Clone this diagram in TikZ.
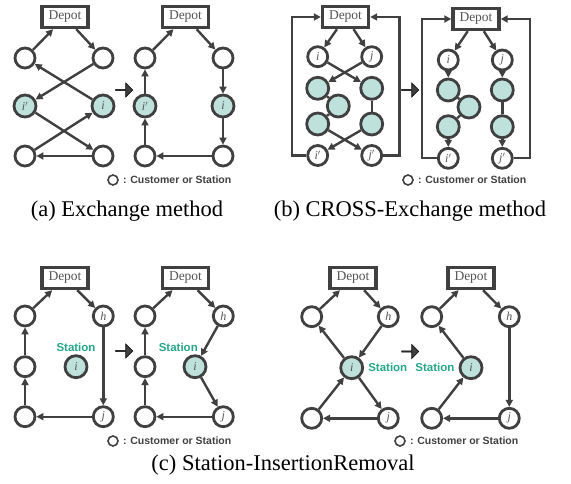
\documentclass[tikz,border=0pt]{standalone}
\usepackage{fontspec}
\setmainfont{Liberation Serif}
\setsansfont{Liberation Sans}
\usepackage{tikz}
\usetikzlibrary{arrows.meta,shapes.arrows,positioning}

\definecolor{dgray}{RGB}{64,64,64}
\definecolor{lgray}{RGB}{85,85,85}
\definecolor{tealfill}{RGB}{190,225,220}
\definecolor{stgreen}{RGB}{38,166,138}

\begin{document}
\begin{tikzpicture}[x=1pt,y=-1pt,color=dgray,line width=2.4pt,
    >={Triangle[length=7pt,width=7pt]},
    cust/.style={circle,draw,line width=2.8pt,fill=white,minimum size=20pt,inner sep=0pt,
      text=lgray,font=\fontsize{12}{12}\selectfont\itshape},
    sta/.style={cust,fill=tealfill,minimum size=22pt},
    depot/.style={draw,line width=3.4pt,fill=white,minimum width=46pt,minimum height=21pt,
      inner sep=0pt,text=lgray,font=\fontsize{13.5}{13.5}\selectfont},
    fat/.style={single arrow,draw=black,line width=0.6pt,fill=dgray,minimum height=17pt,
      minimum width=14pt,single arrow head extend=3.5pt,inner sep=0pt},
    key/.style={circle,draw,line width=1.6pt,minimum size=10pt,inner sep=0pt},
    keytext/.style={inner sep=0pt,text=dgray,font=\fontsize{10.5}{11}\sffamily\bfseries},
    stext/.style={inner sep=0pt,text=stgreen,font=\fontsize{11.5}{12}\sffamily\bfseries},
    captext/.style={inner sep=0pt,text=black,font=\fontsize{22.5}{24}\selectfont}]
  \useasboundingbox (0,0) rectangle (571,484);

  % (a) exchange, before
  \node[depot] (a0) at (65,17) {Depot};
  \node[cust] (a1) at (25,58) {};
  \node[cust,right of=a1,node distance=78pt] (a2) {};
  \node[sta,below of=a1,node distance=48pt] (a3) {\textit{i}$'$};
  \node[sta,right of=a3,node distance=78pt] (a4) {\textit{i}};
  \node[cust,below of=a3,node distance=50pt] (a5) {};
  \node[cust,right of=a5,node distance=78pt] (a6) {};

  \draw[->] (a1) -- (a0);
  \draw[->] (a0) -- (a2);
  \draw[->] (a2) -- (a3);
  \draw[->] (a4) -- (a1);
  \draw[->] (a3) -- (a6);
  \draw[->] (a5) -- (a4);
  \draw[->] (a6) -- (a5);

  \node[fat] (f1) at (124,90) {};

  % (a) exchange, after
  \node[depot] (a10) at (185.5,17) {Depot};
  \node[cust] (a11) at (145,58) {};
  \node[cust,right of=a11,node distance=78pt] (a12) {};
  \node[sta,below of=a11,node distance=48pt] (a13) {\textit{i}$'$};
  \node[sta,right of=a13,node distance=78pt] (a14) {\textit{i}};
  \node[cust,below of=a13,node distance=50pt] (a15) {};
  \node[cust,right of=a15,node distance=78pt] (a16) {};

  \draw[->] (a11) -- (a10);
  \draw[->] (a10) -- (a12);
  \draw[->] (a12) -- (a14);
  \draw[->] (a14) -- (a16);
  \draw[->] (a16) -- (a15);
  \draw[->] (a15) -- (a13);
  \draw[->] (a13) -- (a11);

  \node[key] (k1) at (113,180) {};
  \node[keytext,right=3pt of k1] (k1t) {: Customer or Station};

  % (b) cross-exchange, before
  \node[depot] (b0) at (345.5,17) {Depot};
  \node[cust] (b1) at (317.7,56.7) {\textit{i}};
  \node[cust,right of=b1,node distance=54pt] (b2) {\textit{j}};
  \node[sta] (b3) at (317.7,88.3) {};
  \node[sta] (b4) at (338.3,106) {};
  \node[sta] (b5) at (317.7,124) {};
  \node[sta,right of=b3,node distance=54pt] (b6) {};
  \node[sta,right of=b5,node distance=54pt] (b7) {};
  \node[cust] (b8) at (317.7,155.5) {\textit{i}$'$};
  \node[cust,right of=b8,node distance=54pt] (b9) {\textit{j}$'$};

  \draw[->] (b0) -- (b1);
  \draw[->] (b0) -- (b2);
  \draw[->] (b1) -- (b6);
  \draw[->] (b2) -- (b3);
  \draw (b3) -- (b4) -- (b5);
  \draw (b6) -- (b7);
  \draw[->] (b5) -- (b9);
  \draw[->] (b7) -- (b8);
  \draw[->] (b8.west) -- ++(-14.5,0) |- (b0.west);
  \draw[->] (b9.east) -- ++(16.5,0) |- (b0.east);

  \node[fat] (f2) at (410,90) {};

  % (b) cross-exchange, after
  \node[depot] (b10) at (476,19) {Depot};
  \node[cust] (b11) at (448.3,60) {\textit{i}};
  \node[cust,right of=b11,node distance=54pt] (b12) {\textit{j}};
  \node[sta] (b13) at (448.3,90) {};
  \node[sta] (b14) at (469,107) {};
  \node[sta] (b15) at (448.3,126.7) {};
  \node[sta,right of=b13,node distance=54pt] (b16) {};
  \node[sta,right of=b15,node distance=54pt] (b17) {};
  \node[cust] (b18) at (448.3,158.3) {\textit{i}$'$};
  \node[cust,right of=b18,node distance=54pt] (b19) {\textit{j}$'$};

  \draw[->] (b10) -- (b11);
  \draw[->] (b10) -- (b12);
  \draw[->] (b11) -- (b13);
  \draw (b13) -- (b14) -- (b15);
  \draw[->] (b15) -- (b18);
  \draw[->] (b12) -- (b16);
  \draw (b16) -- (b17);
  \draw[->] (b17) -- (b19);
  \draw[->] (b18.west) -- ++(-15,0) |- (b10.west);
  \draw[->] (b19.east) -- ++(16,0) |- (b10.east);

  \node[key] (k2) at (408,180) {};
  \node[keytext,right=3pt of k2] (k2t) {: Customer or Station};

  \node[captext] (capa) at (127,211) {(a) Exchange method};
  \node[captext] (capb) at (410,211) {(b) CROSS-Exchange method};

  % (c) station insertion, before
  \node[depot] (c0) at (65,278) {Depot};
  \node[cust] (c1) at (25,316) {};
  \node[cust,right of=c1,node distance=78.3pt] (c2) {\textit{h}};
  \node[cust,below of=c1,node distance=50.7pt] (c3) {};
  \node[sta] (c4) at (76,366.7) {\textit{i}};
  \node[cust,below of=c3,node distance=50pt] (c5) {};
  \node[cust,right of=c5,node distance=78.3pt] (c6) {\textit{j}};
  \node[stext,above of=c4,node distance=19.5pt] (c4t) {Station};

  \draw[->] (c1) -- (c0);
  \draw[->] (c0) -- (c2);
  \draw[->] (c2) -- (c6);
  \draw[->] (c6) -- (c5);
  \draw[->] (c5) -- (c3);
  \draw[->] (c3) -- (c1);

  \node[fat] (f3) at (124,351) {};

  % (c) station insertion, after
  \node[depot] (c10) at (185.5,278) {Depot};
  \node[cust] (c11) at (145,316) {};
  \node[cust,right of=c11,node distance=78.3pt] (c12) {\textit{h}};
  \node[cust,below of=c11,node distance=50.7pt] (c13) {};
  \node[sta] (c14) at (195,366.7) {\textit{i}};
  \node[cust,below of=c13,node distance=50pt] (c15) {};
  \node[cust,right of=c15,node distance=78.3pt] (c16) {\textit{j}};
  \node[stext] (c14t) at (178.3,347.3) {Station};

  \draw[->] (c11) -- (c10);
  \draw[->] (c10) -- (c12);
  \draw[->] (c12) -- (c14);
  \draw[->] (c14) -- (c16);
  \draw[->] (c16) -- (c15);
  \draw[->] (c15) -- (c13);
  \draw[->] (c13) -- (c11);

  \node[key] (k3) at (113,441) {};
  \node[keytext,right=3pt of k3] (k3t) {: Customer or Station};

  % (c) station removal, before
  \node[depot] (d0) at (353,278) {Depot};
  \node[cust] (d1) at (311.7,316.7) {};
  \node[cust,right of=d1,node distance=76.6pt] (d2) {\textit{h}};
  \node[sta] (d3) at (351.7,367.7) {\textit{i}};
  \node[cust] (d4) at (311.7,418.3) {};
  \node[cust,right of=d4,node distance=76.6pt] (d5) {\textit{j}};
  \node[stext,right=3pt of d3] (d3t) {Station};

  \draw[->] (d1) -- (d0);
  \draw[->] (d0) -- (d2);
  \draw[->] (d2) -- (d3);
  \draw[->] (d3) -- (d1);
  \draw[->] (d4) -- (d3);
  \draw[->] (d3) -- (d5);
  \draw[->] (d5) -- (d4);

  \node[fat] (f4) at (410,351.5) {};

  % (c) station removal, after
  \node[depot] (d10) at (471,278) {Depot};
  \node[cust] (d11) at (431.7,316.7) {};
  \node[cust,right of=d11,node distance=77.6pt] (d12) {\textit{h}};
  \node[sta] (d13) at (471,367.7) {\textit{i}};
  \node[cust] (d14) at (431.7,418.3) {};
  \node[cust,right of=d14,node distance=77.6pt] (d15) {\textit{j}};
  \node[stext,left=3pt of d13] (d13t) {Station};

  \draw[->] (d11) -- (d10);
  \draw[->] (d10) -- (d12);
  \draw[->] (d12) -- (d15);
  \draw[->] (d15) -- (d14);
  \draw[->] (d14) -- (d13);
  \draw[->] (d13) -- (d11);

  \node[key] (k4) at (400,441) {};
  \node[keytext,right=3pt of k4] (k4t) {: Customer or Station};

  \node[captext] (capc) at (283,465) {(c) Station-InsertionRemoval};
\end{tikzpicture}
\end{document}
